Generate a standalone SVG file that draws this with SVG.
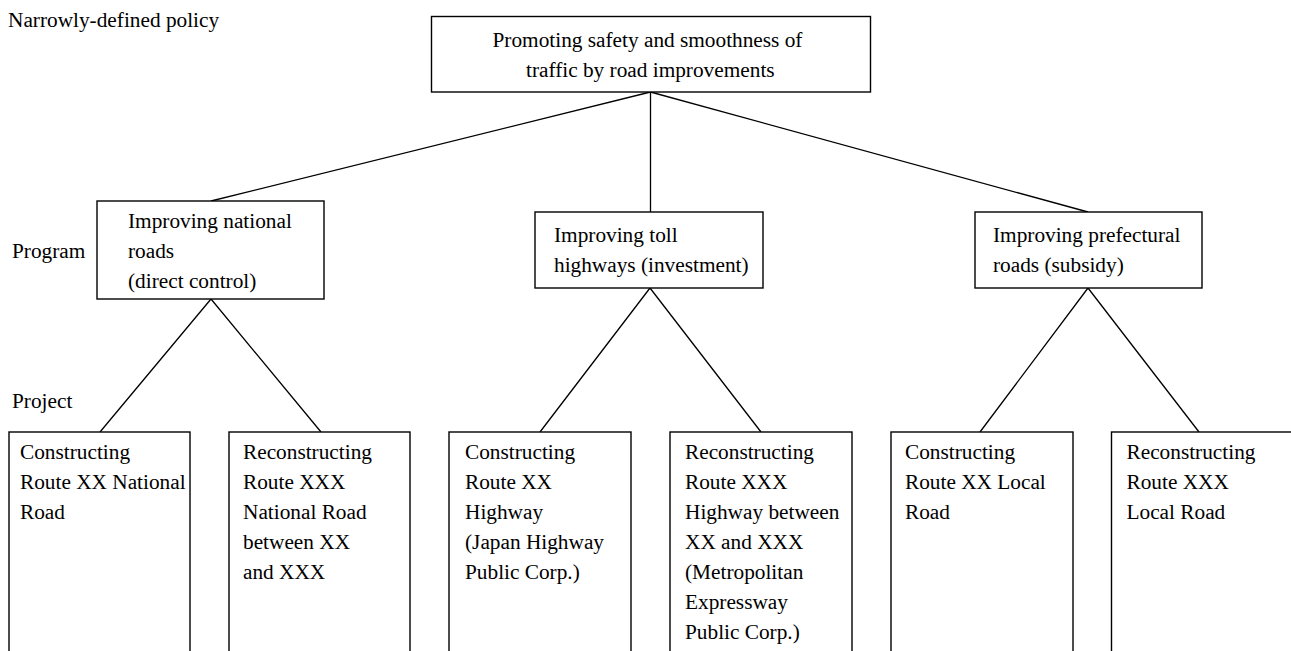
<svg xmlns="http://www.w3.org/2000/svg" width="1291" height="651" viewBox="0 0 1291 651" font-family="'Liberation Serif', 'Times New Roman', Times, serif" font-size="21.3">
<style>
text{font-family:'Liberation Serif','Times New Roman',Times,serif;font-size:21.3px;fill:#000}
.box{fill:#fff;stroke:#000;stroke-width:1.4}
.edge{fill:none;stroke:#000;stroke-width:1.3}
</style>
<rect width="1291" height="651" fill="#fff"/>
<g id="levels">
<text x="8" y="27">Narrowly-defined policy</text>
<text x="12" y="258">Program</text>
<text x="12" y="408">Project</text>
</g>
<g id="connectors">
<path class="edge" d="M650.5,92 L211,201 M650.5,92 L650.5,212 M650.5,92 L1088,212"/>
<path class="edge" d="M211,299 L100,432 M211,299 L321,432"/>
<path class="edge" d="M650,288 L540,432 M650,288 L761,432"/>
<path class="edge" d="M1088,288 L980,432 M1088,288 L1199,432"/>
</g>
<g id="policy">
<rect class="box" x="431.5" y="16.5" width="439" height="75.5"/>
<text x="492.5" y="47">Promoting safety and smoothness of</text>
<text x="526" y="77">traffic by road improvements</text>
</g>
<g id="prog-national">
<rect class="box" x="97" y="201" width="227" height="98"/>
<text x="128" y="228">Improving national<tspan x="128" dy="30">roads</tspan><tspan x="128" dy="30">(direct control)</tspan></text>
</g>
<g id="prog-toll">
<rect class="box" x="535" y="212" width="228" height="76"/>
<text x="554" y="242">Improving toll<tspan x="554" dy="30">highways (investment)</tspan></text>
</g>
<g id="prog-prefectural">
<rect class="box" x="975" y="212" width="227" height="76"/>
<text x="993" y="242">Improving prefectural<tspan x="993" dy="30">roads (subsidy)</tspan></text>
</g>
<g id="proj-1">
<rect class="box" x="9" y="432" width="181" height="240"/>
<text x="20" y="459">Constructing<tspan x="20" dy="30">Route XX National</tspan><tspan x="20" dy="30">Road</tspan></text>
</g>
<g id="proj-2">
<rect class="box" x="229" y="432" width="181" height="240"/>
<text x="243" y="459">Reconstructing<tspan x="243" dy="30">Route XXX</tspan><tspan x="243" dy="30">National Road</tspan><tspan x="243" dy="30">between XX</tspan><tspan x="243" dy="30">and XXX</tspan></text>
</g>
<g id="proj-3">
<rect class="box" x="449" y="432" width="182" height="240"/>
<text x="465" y="459">Constructing<tspan x="465" dy="30">Route XX</tspan><tspan x="465" dy="30">Highway</tspan><tspan x="465" dy="30">(Japan Highway</tspan><tspan x="465" dy="30">Public Corp.)</tspan></text>
</g>
<g id="proj-4">
<rect class="box" x="670" y="432" width="182" height="240"/>
<text x="685" y="459">Reconstructing<tspan x="685" dy="30">Route XXX</tspan><tspan x="685" dy="30">Highway between</tspan><tspan x="685" dy="30">XX and XXX</tspan><tspan x="685" dy="30">(Metropolitan</tspan><tspan x="685" dy="30">Expressway</tspan><tspan x="685" dy="30">Public Corp.)</tspan></text>
</g>
<g id="proj-5">
<rect class="box" x="891" y="432" width="182" height="240"/>
<text x="905" y="459">Constructing<tspan x="905" dy="30">Route XX Local</tspan><tspan x="905" dy="30">Road</tspan></text>
</g>
<g id="proj-6">
<rect class="box" x="1111.5" y="432" width="200" height="240"/>
<text x="1126.5" y="459">Reconstructing<tspan x="1126.5" dy="30">Route XXX</tspan><tspan x="1126.5" dy="30">Local Road</tspan></text>
</g>
</svg>
